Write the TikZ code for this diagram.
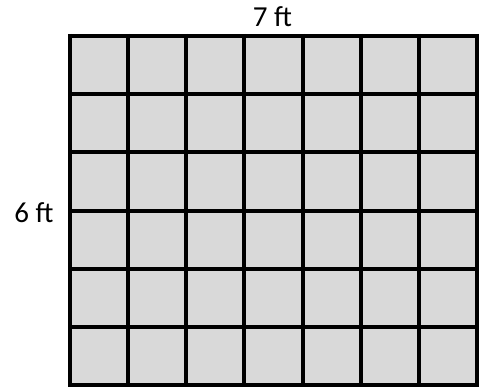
\documentclass[tikz,border=0pt]{standalone}
\usepackage{fontspec}
\setmainfont{Carlito}
\begin{document}
\begin{tikzpicture}[x=1pt,y=-1pt,
  gridline/.style={line width=4pt,black},
  dimlabel/.style={font=\fontsize{29}{32}\selectfont,inner sep=0pt,anchor=base}]
\useasboundingbox (0,0) rectangle (486,387);
\fill[fill={rgb,255:red,217;green,217;blue,217}] (70,36) rectangle (477,385);
\foreach \i in {0,...,7} {
  \draw[gridline] ({70+\i*407/7},34) -- ({70+\i*407/7},387);
}
\foreach \j in {0,...,6} {
  \draw[gridline] (68,{36+\j*349/6}) -- (479,{36+\j*349/6});
}
\node[dimlabel] (top) at (272.5,26.7) {7 ft};
\node[dimlabel] (left) at (34,222) {6 ft};
\end{tikzpicture}
\end{document}
